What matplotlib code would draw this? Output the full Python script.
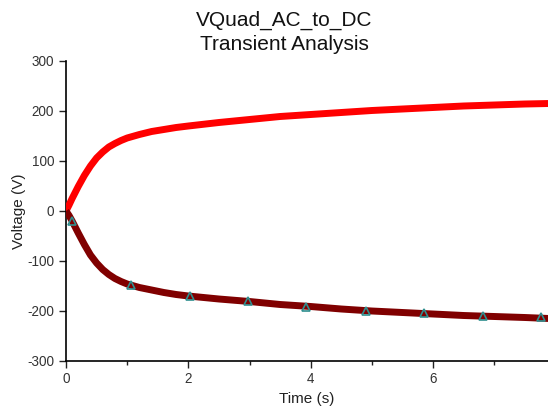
import matplotlib
matplotlib.use("Agg")
import matplotlib.pyplot as plt
from matplotlib.ticker import MultipleLocator

plt.rcParams['font.family'] = ['Liberation Sans', 'DejaVu Sans']
plt.rcParams['axes.unicode_minus'] = False

# time (s) and voltages (V)
t = [0, 0.05, 0.1, 0.2, 0.3, 0.4, 0.5, 0.6, 0.7, 0.8, 0.9, 1.0, 1.2, 1.4,
     1.6, 1.8, 2.0, 2.5, 3.0, 3.5, 4.0, 4.5, 5.0, 5.5, 6.0, 6.5, 7.0, 7.5, 7.9]
v_pos = [0, 12, 25, 49, 71, 90, 106, 118, 128, 135, 141, 146, 153, 159,
         163, 167, 170, 177, 183, 189, 193, 197, 201, 204, 207, 210, 212, 214, 215]
v_neg = [0, -9, -20, -44, -67, -88, -104, -117, -127, -135, -141, -146, -153, -158,
         -163, -167, -170, -176, -181, -187, -191, -196, -200, -203, -206, -209, -211, -213, -215]
# triangle markers on the lower trace
t_mark = [0.1, 1.06, 2.02, 2.98, 3.93, 4.9, 5.86, 6.81, 7.77]
v_mark = [-19, -148, -169, -180, -191, -199, -204, -209, -212]

fig = plt.figure(figsize=(5.48, 4.09), dpi=100)
ax = fig.add_axes([66/548, 1-361/409, 1-66/548, 300/409])

ax.plot(t, v_pos, color='#ff0000', lw=5, solid_capstyle='butt', zorder=3)
ax.plot(t, v_neg, color='#800000', lw=5, solid_capstyle='butt', zorder=3)
ax.plot(t_mark, v_mark, ls='none', marker='^', ms=5.5, mfc='none',
        mec='#2f8f8f', mew=1.2, zorder=4)

ax.set_xlim(0, 7.88)
ax.set_ylim(-300, 300)
ax.xaxis.set_major_locator(MultipleLocator(2))
ax.xaxis.set_minor_locator(MultipleLocator(1))
ax.yaxis.set_major_locator(MultipleLocator(100))
ax.spines['top'].set_visible(False)
ax.spines['right'].set_visible(False)
for s in ['left', 'bottom']:
    ax.spines[s].set_linewidth(1.2)
ax.tick_params(axis='both', which='major', length=5, width=1, labelsize=9.75,
               colors='#222222', labelcolor='#333333')
ax.tick_params(axis='x', which='major', pad=3)
ax.tick_params(axis='x', which='minor', length=3, width=1, colors='#222222')

ax.set_xlabel('Time (s)', fontsize=11, color='#222222', labelpad=4)
ax.set_ylabel('Voltage (V)', fontsize=11, color='#222222', labelpad=1)

fig.canvas.draw()
ylabels = ax.get_yticklabels()
ylabels[0].set_va('bottom')
ylabels[-1].set_va('top')
ax.get_xticklabels()[0].set_ha('left')

fig.text(284/548, 1-20/409, 'VQuad_AC_to_DC', ha='center', va='center',
         fontsize=15, color='#111111')
fig.text(284/548, 1-45/409, 'Transient Analysis', ha='center', va='center',
         fontsize=15, color='#111111')

fig.savefig('out.png', dpi=100)
